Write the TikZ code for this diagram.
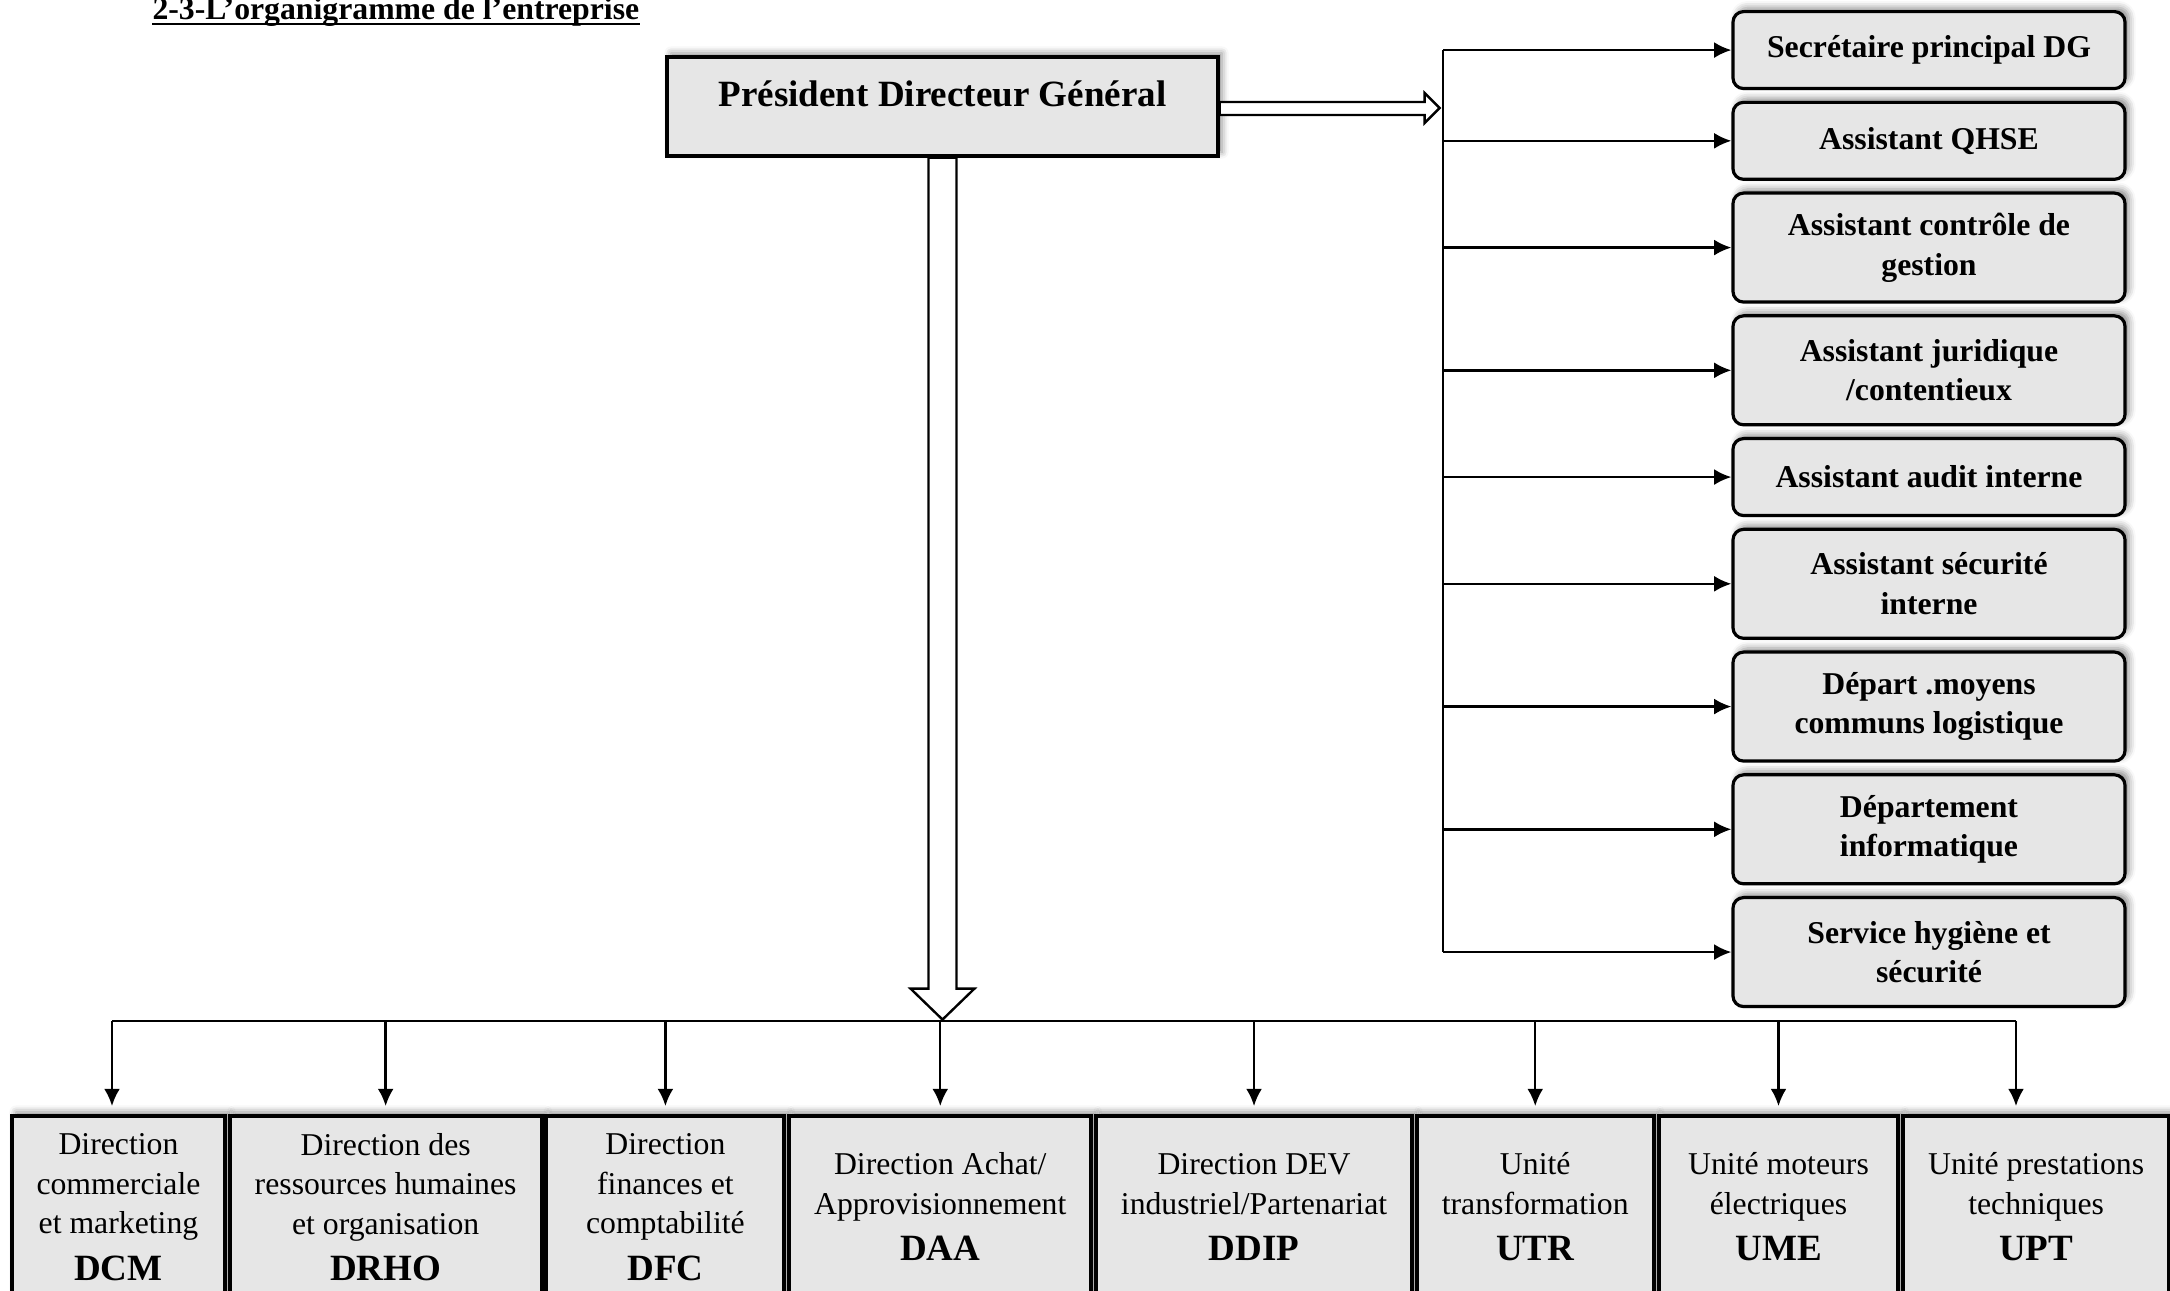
\documentclass[tikz,border=0pt]{standalone}
\usepackage{fontspec}
\setmainfont{Liberation Serif}
\usetikzlibrary{positioning,chains,arrows.meta,shadows.blur}
\definecolor{boxgray}{RGB}{230,230,230}

\begin{document}
\begin{tikzpicture}[
	x=0.378pt,y=-0.378pt,
	start chain=going right,
	softshadow/.style={
		blur shadow={shadow xshift=1.5pt,shadow yshift=1.5pt,
			shadow blur radius=2.5pt,shadow opacity=45},
	},
	pdgbox/.style={
		draw,line width=1.2pt,fill=boxgray,softshadow,
		minimum width=208.3pt,
		minimum height=37.4pt,
		text depth=10pt,
		font=\fontsize{14}{17}\selectfont\bfseries,
	},
	sidebox/.style={
		draw,line width=1.2pt,fill=boxgray,softshadow,
		rounded corners=4pt,
		minimum width=148.2pt,
		minimum height=29.1pt,
		align=center,
		font=\fontsize{12}{15}\selectfont\bfseries,
	},
	tallbox/.style={sidebox,minimum height=41.2pt},
	lowbox/.style={
		on chain,draw,line width=1.5pt,fill=boxgray,softshadow,
		minimum height=68.8pt,
		align=center,
		font=\fontsize{12}{15}\selectfont,
	},
	arr/.style={-{Latex[length=6.5pt,width=6pt]},line width=0.9pt},
	blockarrow/.style={draw,line width=0.9pt,fill=white},
	node distance=0.3pt
]
\useasboundingbox (0,0) rectangle (2170,1290);
\clip (0,0) rectangle (2170,1290);

% Title
\node [anchor=base west,inner sep=0pt,font=\fontsize{12}{14}\selectfont\bfseries]
	(title) at (152,19) {2-3-L’organigramme de l’entreprise};
\draw [line width=0.8pt] ([yshift=-1.8pt]title.base west) -- ([yshift=-1.8pt]title.base east);

% PDG box
\node [pdgbox] (pdg) at (942.5,106.5) {Président Directeur Général};

% Side boxes
\node [sidebox,anchor=north] (b1) at (1929,10) {Secrétaire principal DG};
\node [sidebox,below=4pt of b1] (b2) {Assistant QHSE};
\node [tallbox,below=4pt of b2] (b3) {Assistant contrôle de\\gestion};
\node [tallbox,below=4pt of b3] (b4) {Assistant juridique\\/contentieux};
\node [sidebox,below=4pt of b4] (b5) {Assistant audit interne};
\node [tallbox,below=4pt of b5] (b6) {Assistant sécurité\\interne};
\node [tallbox,below=4pt of b6] (b7) {Départ .moyens\\communs logistique};
\node [tallbox,below=4pt of b7] (b8) {Département\\informatique};
\node [tallbox,below=4pt of b8] (b9) {Service hygiène et\\sécurité};

% Directions row, chain starts here
\node [lowbox,minimum width=80.5pt,anchor=north west] (dcm) at (10,1114)
	{Direction\\commerciale\\et marketing\\[2.5pt]{\fontsize{14}{17}\selectfont\bfseries DCM}};
\node [lowbox,minimum width=117.9pt] (drho)
	{Direction des\\ressources humaines\\et organisation\\[2.5pt]{\fontsize{14}{17}\selectfont\bfseries DRHO}};
\node [lowbox,minimum width=90pt] (dfc)
	{Direction\\finances et\\comptabilité\\[2.5pt]{\fontsize{14}{17}\selectfont\bfseries DFC}};
\node [lowbox,minimum width=114.2pt] (daa)
	{Direction Achat/\\Approvisionnement\\[2.5pt]{\fontsize{14}{17}\selectfont\bfseries DAA}};
\node [lowbox,minimum width=119.4pt] (ddip)
	{Direction DEV\\industriel/Partenariat\\[2.5pt]{\fontsize{14}{17}\selectfont\bfseries DDIP}};
\node [lowbox,minimum width=89.6pt] (utr)
	{Unité\\transformation\\[2.5pt]{\fontsize{14}{17}\selectfont\bfseries UTR}};
\node [lowbox,minimum width=90.7pt] (ume)
	{Unité moteurs\\électriques\\[2.5pt]{\fontsize{14}{17}\selectfont\bfseries UME}};
\node [lowbox,minimum width=100.5pt] (upt)
	{Unité prestations\\techniques\\[2.5pt]{\fontsize{14}{17}\selectfont\bfseries UPT}};
% Chain ends here

% PDG to side boxes
\draw [blockarrow] (pdg.east) ++(0,-4.5) -- ++(205,0) -- ++(0,-9) -- ++(15,15)
	-- ++(-15,15) -- ++(0,-8) -- ++(-205,0) -- cycle;
\coordinate (spine) at (1443,0);
\draw [line width=0.6pt] (spine |- b1) -- (spine |- b9);
\draw [arr] (spine |- b1.west) -- (b1.west);
\draw [arr] (spine |- b2.west) -- (b2.west);
\draw [arr] (spine |- b3.west) -- (b3.west);
\draw [arr] (spine |- b4.west) -- (b4.west);
\draw [arr] (spine |- b5.west) -- (b5.west);
\draw [arr] (spine |- b6.west) -- (b6.west);
\draw [arr] (spine |- b7.west) -- (b7.west);
\draw [arr] (spine |- b8.west) -- (b8.west);
\draw [arr] (spine |- b9.west) -- (b9.west);

% PDG to directions
\draw [blockarrow] (pdg.south) ++(-14,0) -- ++(0,831) -- ++(-18,0) -- ++(32,31)
	-- ++(32,-31) -- ++(-18,0) -- ++(0,-831) -- cycle;
\coordinate (busL) at (112,1021);
\coordinate (busR) at (2016,1021);
\draw [line width=1.1pt] (busL) -- (busR);
\draw [arr,shorten >=3pt] (busL) -- (busL |- dcm.north);
\draw [arr,shorten >=3pt] (drho.north |- busL) -- (drho.north);
\draw [arr,shorten >=3pt] (dfc.north |- busL) -- (dfc.north);
\draw [arr,shorten >=3pt] (daa.north |- busL) -- (daa.north);
\draw [arr,shorten >=3pt] (ddip.north |- busL) -- (ddip.north);
\draw [arr,shorten >=3pt] (utr.north |- busL) -- (utr.north);
\draw [arr,shorten >=3pt] (ume.north |- busL) -- (ume.north);
\draw [arr,shorten >=3pt] (busR) -- (busR |- upt.north);

\end{tikzpicture}
\end{document}
